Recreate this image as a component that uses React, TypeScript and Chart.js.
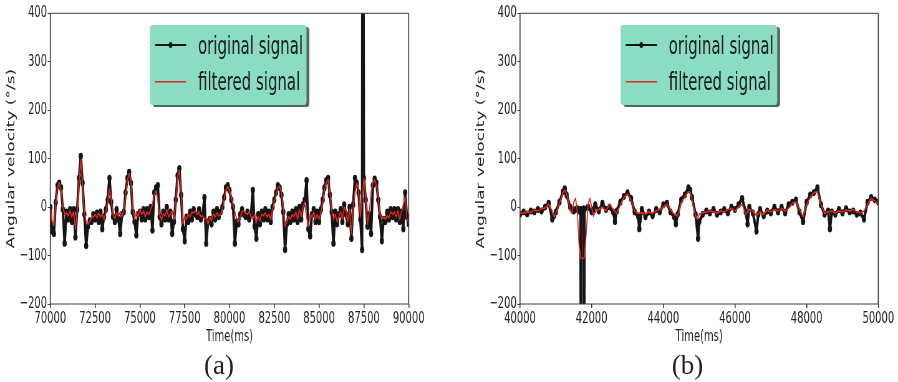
import React, { useEffect, useRef } from "react";
import { Chart, registerables } from "chart.js";

Chart.register(...registerables);

// ---------- page geometry (each panel canvas is drawn wide, then squeezed by CSS) ----------
const CSS_W = 449;
const CSS_H = 382;
const INT_W = 720;
const SX = CSS_W / INT_W;

const FONT = '"DejaVu Sans", "Liberation Sans", sans-serif';
const INK = "#222222";
const FRAME = "#3a3a3a";
const BLACK = "#151515";
const RED = "#e3261d";
const LEGEND_BG = "#8adcc3";
const LEGEND_SHADOW = "rgba(45,80,70,0.85)";

// ---------- text ----------
const SERIES_LABELS = ["original signal", "filtered signal"];
const Y_TITLE = "Angular velocity (°/s)";
const X_TITLE = "Time(ms)";
const CAPTIONS = ["(a)", "(b)"];

// ---------- axes ----------
const Y_MIN = -200;
const Y_MAX = 400;
const Y_STEP = 100;
const LEFT_X_RANGE = [70000, 90000];
const LEFT_X_STEP = 2500;
const RIGHT_X_RANGE = [40000, 50000];
const RIGHT_X_STEP = 2000;

// ---------- panel (a): sampled every 100 ms from 70000 ms ----------
const LEFT_T0 = 70000;
const LEFT_DT = 100;
const leftOriginal = [
  0, -50, -55, 10, 45, 50, 40, -5, -75, -10,
  -25, -5, -30, -5, -62, -5, 60, 105, 50, -15,
  -80, -40, -28, -30, -15, -25, -12, -30, -10, -45,
  -20, -5, 15, 60, 10, -20, -30, -5, -25, -55,
  -15, -10, 30, 60, 72, 50, -10, -30, -58, -15,
  -10, -25, -5, -25, -5, -20, 0, -48, 30, 40,
  45, -20, -35, -10, -25, 0, -25, -10, -55, -30,
  15, 65, 80, 25, -45, -70, -20, -30, -10, -25,
  -5, -15, -20, -5, -25, -15, 20, -75, -30, -25,
  -35, -10, -25, -5, -20, -10, 0, 20, 40, 45,
  35, 15, 0, -75, -30, -35, -15, -5, -15, -20,
  -10, -25, -15, 35, -40, -65, -15, -35, -10, -25,
  -5, -25, -10, -30, 0, 15, 30, 45, 40, 25,
  -10, -88, -35, -15, -30, -10, -25, -5, -30, 0,
  -25, 5, 15, 55, -45, -60, -15, -5, -30, -10,
  -30, -5, 15, 40, 55, 60, 25, -10, -75, -10,
  -35, -15, -5, -30, 5, -15, -35, 0, -65, 5,
  60, 50, 30, -25, -88, 60, 15, -40, -15, -55,
  45, 58, 50, 15, -20, -70, -25, -30, -10, -25,
  -5, -20, -5, -25, -5, -30, -10, -45, 30, -20,
  -35,
];
const leftSpikeTimes = [87420, 87450];
const leftSpikeValues = [900, 900];
const leftFiltered = [
  -3, -30, -38, 5, 40, 50, 35, 0, -15, -12,
  -18, -8, -20, -10, -45, -10, 50, 98, 45, -10,
  -30, -35, -30, -22, -20, -15, -22, -12, -20, -15,
  -25, -10, 10, 38, 15, -15, -23, -12, -18, -10,
  -20, -5, 25, 55, 69, 55, 0, -25, -10, -20,
  -5, -15, -8, -20, -10, -15, -5, 5, 25, 34,
  15, -15, -27, -15, -18, -5, -20, -15, -8, -25,
  10, 60, 76, 30, -34, -20, -25, -15, -20, -10,
  -12, -8, -15, -10, -20, -18, -25, -22, -35, -20,
  -28, -15, -20, -12, -18, -15, -5, 15, 35, 42,
  35, 20, 5, -10, -25, -30, -20, -10, -8, -12,
  -15, -10, -20, -25, -15, -30, -20, -28, -15, -18,
  -12, -20, -15, -25, -5, 10, 25, 40, 43, 30,
  0, -40, -30, -20, -25, -15, -20, -10, -25, -5,
  -20, 0, 10, -20, -40, -15, -20, -10, -25, -15,
  -25, -10, 10, 35, 50, 56, 30, -5, -25, -15,
  -30, -20, -10, -25, 0, -10, -30, -5, -55, 0,
  30, 49, 35, -20, 20, 59, 20, -35, -10, 30,
  50, 56, 45, 20, -15, -25, -20, -25, -18, -22,
  -10, -15, -10, -20, -8, -25, -10, 5, 21, -25,
  -30,
];

// ---------- panel (b) ----------
const rightOriginalTimes = [
  40000, 40100, 40200, 40300, 40400, 40500, 40600, 40700, 40800, 40900, 40950,
  41000, 41100, 41200, 41250, 41300, 41400, 41450, 41500, 41550, 41600, 41650,
  41690, 41700, 41710, 41750, 41780, 41790, 41800, 41900,
  42000, 42050, 42100, 42200, 42300, 42400, 42500, 42600, 42650, 42700, 42800, 42900,
  43000, 43100, 43200, 43300, 43330, 43400, 43500, 43600, 43700, 43800, 43900,
  44000, 44100, 44200, 44300, 44350, 44400, 44500, 44600, 44700, 44750, 44800, 44900, 44970,
  45000, 45100, 45200, 45300, 45400, 45500, 45600, 45700, 45800, 45900,
  46000, 46100, 46200, 46300, 46350, 46400, 46500, 46600, 46650, 46700, 46800, 46900,
  47000, 47100, 47200, 47300, 47400, 47500, 47600, 47700, 47800, 47900,
  48000, 48100, 48200, 48300, 48400, 48500, 48600, 48650, 48700, 48800, 48900,
  49000, 49100, 49200, 49300, 49400, 49500, 49600, 49700, 49800, 49900, 50000,
];
const rightOriginalValues = [
  -15, -10, -14, -8, -10, -5, -8, 0, 8, -25, -18,
  -10, 10, 32, 38, 25, 0, -5, -8, -5, -3, -8,
  -5, -500, -5, -8, -3, -500, -5, 0,
  -10, -5, 5, -8, 8, -5, 0, -10, -30, -8, 10, 22,
  30, 18, -10, -20, -45, -5, -20, -10, -18, -5, -10,
  5, 8, -10, -20, -35, -15, 15, 25, 40, 35, 20, -15, -65,
  -30, -15, -8, -12, -5, -15, -10, -5, -12, 0,
  -5, 5, 18, -10, -35, 0, -12, -50, -15, -5, -18, -8,
  -12, 0, -10, 0, -12, 5, 10, 15, -10, -30,
  10, 25, 30, 40, 5, -15, -8, -45, -10, -15, -5,
  -12, -3, -10, -8, -15, -12, -25, 10, 20, 15, 10,
];
const rightFilteredTimes = [
  40000, 40100, 40200, 40300, 40400, 40500, 40600, 40700, 40800, 40900, 40950,
  41000, 41100, 41200, 41250, 41300, 41400, 41450, 41500, 41550, 41600, 41650,
  41700, 41750, 41800, 41850, 41900, 41950,
  42000, 42050, 42100, 42200, 42300, 42400, 42500, 42600, 42700, 42800, 42900,
  43000, 43100, 43200, 43300, 43400, 43500, 43600, 43700, 43800, 43900,
  44000, 44100, 44200, 44300, 44400, 44500, 44600, 44700, 44750, 44800, 44900, 44950,
  45000, 45100, 45200, 45300, 45400, 45500, 45600, 45700, 45800, 45900,
  46000, 46100, 46200, 46300, 46400, 46500, 46600, 46700, 46800, 46900,
  47000, 47100, 47200, 47300, 47400, 47500, 47600, 47700, 47800, 47900,
  48000, 48100, 48200, 48300, 48400, 48500, 48600, 48700, 48800, 48900,
  49000, 49100, 49200, 49300, 49400, 49500, 49600, 49700, 49800, 49900, 50000,
];
const rightFilteredValues = [
  -13, -12, -10, -11, -6, -8, -3, -2, 6, -8, -20,
  -12, 8, 30, 36, 28, -5, -13, 10, 18, -10, -80,
  -106, -106, -104, -50, 5, 18,
  0, -19, -10, -5, 0, -8, 6, -5, -13, 5, 20,
  27, 15, -8, -13, -12, -14, -10, -13, -8, -5,
  0, 6, -5, -15, -18, 10, 21, 32, 30, 15, -18, -25,
  -15, -12, -10, -8, -10, -12, -8, -10, -5, -3,
  -8, 0, 6, -15, -5, -8, -18, -10, -15, -6,
  -10, -5, -8, -3, -8, -2, 8, 11, -5, -20,
  5, 20, 30, 32, 5, -13, -10, -8, -12, -8,
  -10, -6, -8, -5, -10, -12, -8, 5, 18, 12, 6,
];

// ---------- helpers ----------
function pairs(times: number[], values: number[]) {
  return times.map((t, i) => ({ x: t, y: values[i] }));
}
function uniformPairs(t0: number, dt: number, values: number[]) {
  return values.map((v, i) => ({ x: t0 + i * dt, y: v }));
}
const leftOriginalPoints = uniformPairs(LEFT_T0, LEFT_DT, leftOriginal)
  .concat(pairs(leftSpikeTimes, leftSpikeValues))
  .sort((a, b) => a.x - b.x);
const leftFilteredPoints = uniformPairs(LEFT_T0, LEFT_DT, leftFiltered);
const rightOriginalPoints = pairs(rightOriginalTimes, rightOriginalValues);
const rightFilteredPoints = pairs(rightFilteredTimes, rightFilteredValues);

const framePlugin = {
  id: "frame",
  afterDatasetsDraw(chart: any) {
    const { ctx, chartArea: a } = chart;
    ctx.save();
    ctx.strokeStyle = FRAME;
    ctx.lineWidth = 1;
    ctx.beginPath();
    ctx.moveTo(a.left, a.top);
    ctx.lineTo(a.right, a.top);
    ctx.moveTo(a.left, a.bottom);
    ctx.lineTo(a.right, a.bottom);
    ctx.stroke();
    ctx.lineWidth = 1.6;
    ctx.beginPath();
    ctx.moveTo(a.left, a.top);
    ctx.lineTo(a.left, a.bottom);
    ctx.moveTo(a.right, a.top);
    ctx.lineTo(a.right, a.bottom);
    ctx.stroke();
    ctx.restore();
  },
};

const legendPlugin = {
  id: "boxLegend",
  afterDatasetsDraw(chart: any, _args: any, opts: any) {
    const { ctx } = chart;
    const { x, y, w, h } = opts;
    ctx.save();
    const rr = (px: number, py: number) => {
      ctx.beginPath();
      if ((ctx as any).roundRect) (ctx as any).roundRect(px, py, w, h, 4);
      else ctx.rect(px, py, w, h);
    };
    ctx.fillStyle = LEGEND_SHADOW;
    rr(x + 4.5, y + 2);
    ctx.fill();
    ctx.fillStyle = LEGEND_BG;
    rr(x, y);
    ctx.fill();
    const rowsLine = [y + 20, y + 56.7];
    const rowsText = [y + 28.5, y + 65];
    chart.data.datasets.forEach((ds: any, i: number) => {
      ctx.strokeStyle = ds.borderColor;
      ctx.lineWidth = i === 0 ? 2 : 1.6;
      ctx.beginPath();
      ctx.moveTo(x + 8, rowsLine[i]);
      ctx.lineTo(x + 58, rowsLine[i]);
      ctx.stroke();
      if (ds.pointRadius > 0) {
        ctx.fillStyle = ds.borderColor;
        ctx.beginPath();
        ctx.arc(x + 33, rowsLine[i], 3, 0, Math.PI * 2);
        ctx.fill();
      }
      ctx.fillStyle = "#1c1c1c";
      ctx.font = `24px ${FONT}`;
      ctx.textBaseline = "alphabetic";
      ctx.textAlign = "left";
      ctx.fillText(ds.label, x + 77, rowsText[i]);
    });
    ctx.restore();
  },
};

type PanelSpec = {
  original: { x: number; y: number }[];
  filtered: { x: number; y: number }[];
  xRange: number[];
  xStep: number;
  yAxisWidth: number;
  yTitlePad: number;
  padRight: number;
  legendX: number;
};

function makeConfig(p: PanelSpec): any {
  return {
    type: "line",
    data: {
      datasets: [
        {
          label: SERIES_LABELS[0],
          data: p.original,
          order: 1,
          borderColor: BLACK,
          backgroundColor: BLACK,
          borderWidth: 4,
          borderJoinStyle: "round",
          borderCapStyle: "round",
          pointRadius: 3.4,
          pointBorderWidth: 0,
          pointBackgroundColor: BLACK,
          tension: 0,
        },
        {
          label: SERIES_LABELS[1],
          data: p.filtered,
          order: 0,
          borderColor: RED,
          backgroundColor: RED,
          borderWidth: 1.7,
          borderJoinStyle: "round",
          pointRadius: 0,
          tension: 0,
        },
      ],
    },
    options: {
      responsive: false,
      animation: false,
      devicePixelRatio: 1,
      events: [],
      layout: { padding: { left: 0, top: 13.3, right: p.padRight, bottom: 33 } },
      plugins: {
        legend: { display: false },
        tooltip: { enabled: false },
        boxLegend: { x: p.legendX, y: 25, w: 251, h: 80 },
      },
      scales: {
        x: {
          type: "linear",
          min: p.xRange[0],
          max: p.xRange[1],
          afterFit: (s: any) => {
            s.height = 45;
          },
          ticks: {
            stepSize: p.xStep,
            autoSkip: false,
            maxRotation: 0,
            padding: 1,
            color: INK,
            font: { family: FONT, size: 16 },
            callback: (v: number) => String(v),
          },
          grid: {
            drawOnChartArea: false,
            drawTicks: true,
            tickLength: 4,
            color: FRAME,
            lineWidth: 1.6,
          },
          border: { display: false },
          title: {
            display: true,
            text: X_TITLE,
            color: INK,
            font: { family: FONT, size: 16 },
            padding: { top: 0, bottom: 3 },
          },
        },
        y: {
          type: "linear",
          min: Y_MIN,
          max: Y_MAX,
          afterFit: (s: any) => {
            s.width = p.yAxisWidth;
          },
          ticks: {
            stepSize: Y_STEP,
            padding: 1,
            color: INK,
            font: { family: FONT, size: 16 },
            callback: (v: number) => (v < 0 ? "\u2212" + Math.abs(v) : String(v)),
          },
          grid: {
            drawOnChartArea: false,
            drawTicks: true,
            tickLength: 4.2,
            color: FRAME,
            lineWidth: 1,
          },
          border: { display: false },
          title: {
            display: true,
            text: Y_TITLE,
            color: INK,
            font: { family: FONT, size: 17 },
            padding: { top: p.yTitlePad, bottom: 0 },
          },
        },
      },
    },
    plugins: [framePlugin, legendPlugin],
  };
}

const PANELS: PanelSpec[] = [
  {
    original: leftOriginalPoints,
    filtered: leftFilteredPoints,
    xRange: LEFT_X_RANGE,
    xStep: LEFT_X_STEP,
    yAxisWidth: 50.3 / SX,
    yTitlePad: 8,
    padRight: INT_W - 408.7 / SX,
    legendX: 150 / SX,
  },
  {
    original: rightOriginalPoints,
    filtered: rightFilteredPoints,
    xRange: RIGHT_X_RANGE,
    xStep: RIGHT_X_STEP,
    yAxisWidth: 71 / SX,
    yTitlePad: 41.6,
    padRight: INT_W - 429.3 / SX,
    legendX: 171.7 / SX,
  },
];

function Panel({ spec, left }: { spec: PanelSpec; left: number }) {
  const ref = useRef<HTMLCanvasElement>(null);
  useEffect(() => {
    const chart = new Chart(ref.current as HTMLCanvasElement, makeConfig(spec));
    return () => chart.destroy();
  }, [spec]);
  return (
    <canvas
      ref={ref}
      width={INT_W}
      height={CSS_H}
      style={{ position: "absolute", left, top: 0, width: CSS_W, height: CSS_H }}
    />
  );
}

const CAPTION_X = [219, 687.5];

export default function App() {
  return (
    <div
      style={{
        position: "absolute",
        left: 0,
        top: 0,
        width: 898,
        height: 382,
        background: "#ffffff",
        overflow: "hidden",
      }}
    >
      <Panel spec={PANELS[0]} left={0} />
      <Panel spec={PANELS[1]} left={449} />
      {CAPTIONS.map((c, i) => (
        <div
          key={c}
          style={{
            position: "absolute",
            left: CAPTION_X[i],
            top: 349,
            transform: "translateX(-50%)",
            fontFamily: '"Liberation Serif", "DejaVu Serif", serif',
            fontSize: 27,
            lineHeight: "32px",
            color: "#222",
            whiteSpace: "nowrap",
          }}
        >
          {c}
        </div>
      ))}
    </div>
  );
}
